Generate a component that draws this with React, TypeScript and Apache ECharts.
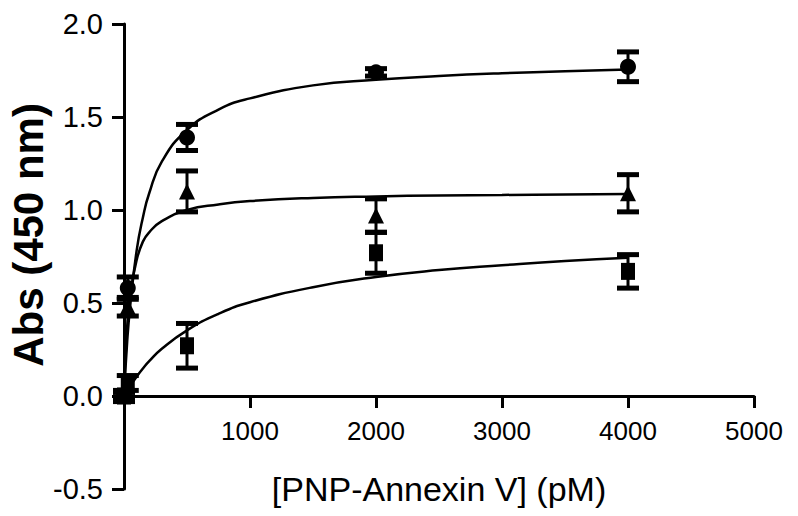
import React, { useEffect, useRef } from "react";
import * as echarts from "echarts";

// concentrations (pM)
const xValues = [0, 30, 500, 2000, 4000];

// circles
const circleMean = [0.0, 0.58, 1.39, 1.74, 1.77];
const circleErr = [0.02, 0.06, 0.07, 0.02, 0.08];
// triangles
const triangleMean = [0.0, 0.48, 1.1, 0.97, 1.09];
const triangleErr = [0.02, 0.05, 0.11, 0.09, 0.1];
// squares
const squareMean = [0.0, 0.07, 0.27, 0.77, 0.67];
const squareErr = [0.03, 0.04, 0.12, 0.11, 0.09];

// fitted curves
const curveX = [0, 25, 50, 100, 150, 200, 300, 500, 750, 1000, 1500, 2000, 2500, 3000, 3500, 4000];
const circleCurve = [0, 0.29, 0.49, 0.78, 0.96, 1.09, 1.26, 1.43, 1.54, 1.6, 1.67, 1.7, 1.72, 1.735, 1.746, 1.755];
const triangleCurve = [0, 0.37, 0.55, 0.73, 0.83, 0.88, 0.94, 1.0, 1.03, 1.048, 1.065, 1.073, 1.078, 1.081, 1.084, 1.086];
const squareCurve = [0, 0.03, 0.055, 0.104, 0.148, 0.187, 0.254, 0.353, 0.442, 0.504, 0.585, 0.64, 0.677, 0.703, 0.726, 0.743];

const xTicks = [1000, 2000, 3000, 4000, 5000];

const FONT = "Liberation Sans, Arial, sans-serif";

function pairs(xs: number[], ys: number[]) {
  return xs.map((x, i) => [x, ys[i]]);
}

function errData(mean: number[], err: number[]) {
  return xValues.map((x, i) => [x, mean[i] - err[i], mean[i] + err[i]]);
}

function errorSeries(mean: number[], err: number[]) {
  return {
    type: "custom",
    data: errData(mean, err),
    z: 3,
    renderItem: (_params: any, api: any) => {
      const x = api.value(0);
      const lo = api.coord([x, api.value(1)]);
      const hi = api.coord([x, api.value(2)]);
      const half = 11;
      const style = { stroke: "#000", lineWidth: 5 };
      return {
        type: "group",
        children: [
          { type: "line", shape: { x1: lo[0], y1: lo[1], x2: hi[0], y2: hi[1] }, style: { stroke: "#000", lineWidth: 3 } },
          { type: "line", shape: { x1: lo[0] - half, y1: lo[1], x2: lo[0] + half, y2: lo[1] }, style },
          { type: "line", shape: { x1: hi[0] - half, y1: hi[1], x2: hi[0] + half, y2: hi[1] }, style },
        ],
      };
    },
  };
}

function markerSeries(mean: number[], symbol: string, size: number | number[]) {
  return {
    type: "scatter",
    data: pairs(xValues, mean),
    symbol,
    symbolSize: size,
    itemStyle: { color: "#000", opacity: 1 },
    z: 4,
  };
}

function curveSeries(ys: number[]) {
  return {
    type: "line",
    data: pairs(curveX, ys),
    smooth: true,
    showSymbol: false,
    lineStyle: { color: "#000", width: 2.5 },
    z: 2,
  };
}

export default function App() {
  const ref = useRef<HTMLDivElement>(null);
  useEffect(() => {
    if (!ref.current) return;
    const chart = echarts.init(ref.current, null, { renderer: "svg" });
    chart.setOption({
      animation: false,
      backgroundColor: "#fff",
      grid: { left: 124, right: 44, top: 24, bottom: 27, containLabel: false, outerBoundsMode: "none" },
      xAxis: {
        type: "value",
        min: 0,
        max: 5000,
        interval: 1000,
        offset: -93,
        name: "[PNP-Annexin V] (pM)",
        nameLocation: "middle",
        nameGap: 76,
        nameTextStyle: { fontFamily: FONT, fontSize: 34, color: "#000" },
        axisLine: { onZero: false, lineStyle: { color: "#000", width: 3 } },
        axisTick: { show: true, length: 12, lineStyle: { color: "#000", width: 3 }, customValues: xTicks },
        axisLabel: {
          fontFamily: FONT,
          fontSize: 26,
          color: "#000",
          margin: 22,
          customValues: xTicks,
          formatter: (v: number) => String(v),
        },
        splitLine: { show: false },
      },
      yAxis: {
        type: "value",
        min: -0.5,
        max: 2.0,
        interval: 0.5,
        axisLine: { show: true, lineStyle: { color: "#000", width: 3 } },
        axisTick: { show: true, length: 12, lineStyle: { color: "#000", width: 3 } },
        axisLabel: {
          fontFamily: FONT,
          fontSize: 29,
          color: "#000",
          margin: 21,
          formatter: (v: number) => v.toFixed(1),
        },
        splitLine: { show: false },
      },
      graphic: [
        {
          type: "text",
          x: 28,
          y: 235,
          rotation: Math.PI / 2,
          style: {
            text: "Abs (450 nm)",
            fontFamily: FONT,
            fontSize: 42,
            fontWeight: "bold",
            fill: "#000",
            align: "center",
            verticalAlign: "middle",
          },
        },
      ],
      series: [
        curveSeries(circleCurve),
        curveSeries(triangleCurve),
        curveSeries(squareCurve),
        errorSeries(circleMean, circleErr),
        errorSeries(triangleMean, triangleErr),
        errorSeries(squareMean, squareErr),
        markerSeries(circleMean, "circle", 16),
        markerSeries(triangleMean, "triangle", 16),
        markerSeries(squareMean, "rect", [14, 17]),
      ],
    });
    return () => chart.dispose();
  }, []);
  return <div ref={ref} style={{ position: "fixed", left: 0, top: 0, width: 798, height: 516 }} />;
}
